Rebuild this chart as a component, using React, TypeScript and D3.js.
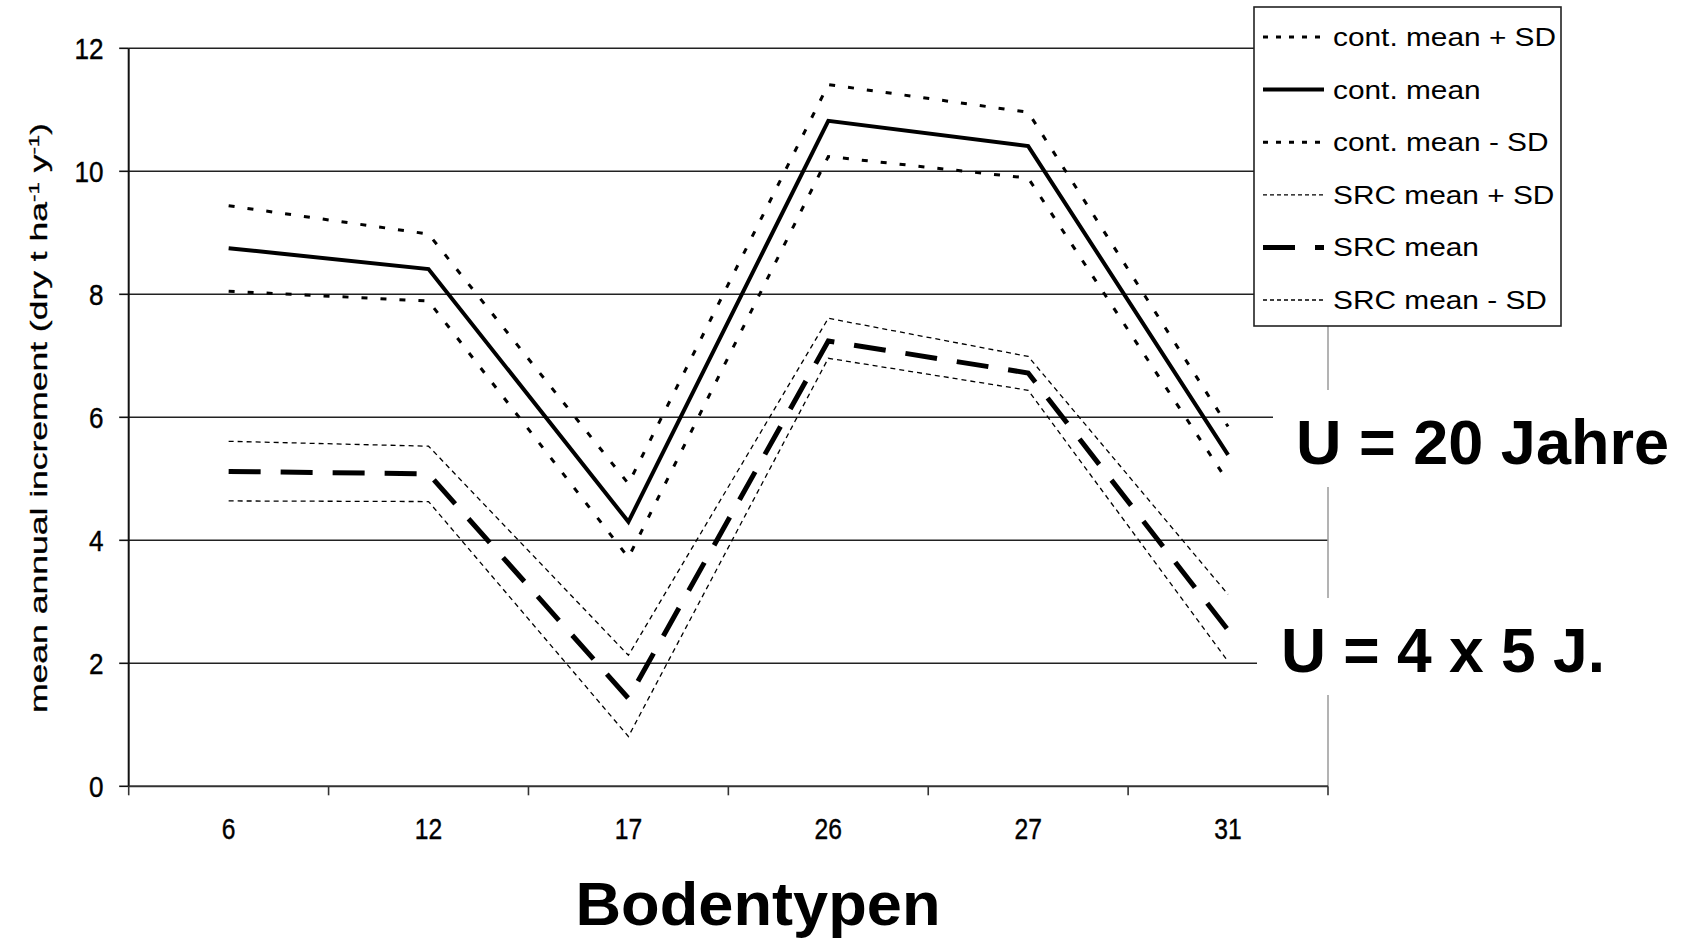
import React from 'react';
import * as d3 from 'd3';

const categories = ['6', '12', '17', '26', '27', '31'];
const contPlusSD = [9.44, 8.98, 4.92, 11.41, 10.96, 5.85];
const contMean = [8.75, 8.41, 4.3, 10.82, 10.41, 5.39];
const contMinusSD = [8.05, 7.89, 3.72, 10.24, 9.89, 4.95];
const srcPlusSD = [5.61, 5.53, 2.13, 7.61, 6.99, 3.12];
const srcMean = [5.12, 5.08, 1.43, 7.24, 6.72, 2.54];
const srcMinusSD = [4.64, 4.63, 0.81, 6.96, 6.44, 2.03];
const yTicks = [0, 2, 4, 6, 8, 10, 12];

const seriesNames = ['cont. mean + SD', 'cont. mean', 'cont. mean - SD', 'SRC mean + SD', 'SRC mean', 'SRC mean - SD'];

const FONT = "'Liberation Sans', Arial, sans-serif";

export default function App() {
  const W = 1682, H = 940;
  const x0 = 128.7, x1 = 1328, yTop = 48.3, yBot = 786.3;
  const x = d3.scaleBand<string>().domain(categories).range([x0, x1]);
  const y = d3.scaleLinear().domain([0, 12]).range([yBot, yTop]);
  const cx = (c: string) => (x(c) as number) + x.bandwidth() / 2;
  const line = (vals: number[]) =>
    d3.line<number>().x((_, i) => cx(categories[i])).y((v) => y(v))(vals) as string;

  const styles = [
    { vals: contPlusSD, w: 3, dash: '6 13', lw: 3, ldash: '5 8' },
    { vals: contMean, w: 4, dash: 'none', lw: 4, ldash: 'none' },
    { vals: contMinusSD, w: 3, dash: '6 13', lw: 3, ldash: '5 8' },
    { vals: srcPlusSD, w: 1.3, dash: '5 4', lw: 1.3, ldash: '4 3' },
    { vals: srcMean, w: 5, dash: '32 20', lw: 5, ldash: '32 20' },
    { vals: srcMinusSD, w: 1.3, dash: '5 4', lw: 1.3, ldash: '4 3' },
  ];

  const boundaries = categories.map((c) => x(c) as number).concat([x1]);
  const legY0 = 37, legStep = 52.6;

  return (
    <svg width={W} height={H} style={{ position: 'absolute', left: 0, top: 0, background: '#fff' }} fontFamily={FONT}>
      <rect x={0} y={0} width={W} height={H} fill="#fff" />
      {/* gridlines */}
      {yTicks.filter((t) => t > 0).map((t) => (
        <line key={t} x1={x0} x2={x1} y1={y(t)} y2={y(t)} stroke="#222" strokeWidth={1.6} />
      ))}
      {/* right border */}
      <line x1={x1} x2={x1} y1={yTop} y2={yBot} stroke="#a0a0a0" strokeWidth={1.6} />
      {/* axes */}
      <line x1={x0} x2={x0} y1={yTop} y2={yBot} stroke="#111" strokeWidth={2} />
      <line x1={x0} x2={x1} y1={yBot} y2={yBot} stroke="#333" strokeWidth={2} />
      {yTicks.map((t) => (
        <g key={t}>
          <line x1={x0 - 9.5} x2={x0} y1={y(t)} y2={y(t)} stroke="#111" strokeWidth={1.6} />
          <text transform={`translate(103.5,${y(t) + 10.3}) scale(0.9,1)`} textAnchor="end" fontSize={29} fill="#000"
            stroke="#000" strokeWidth={0.4}>
            {t}
          </text>
        </g>
      ))}
      {boundaries.map((b, i) => (
        <line key={i} x1={b} x2={b} y1={yBot} y2={yBot + 9} stroke="#333" strokeWidth={1.6} />
      ))}
      {categories.map((c) => (
        <text key={c} transform={`translate(${cx(c)},839.3) scale(0.85,1)`} textAnchor="middle" fontSize={29} fill="#000"
          stroke="#000" strokeWidth={0.4}>
          {c}
        </text>
      ))}
      {/* series */}
      {styles.map((s, i) => (
        <path key={i} d={line(s.vals)} fill="none" stroke="#000" strokeWidth={s.w}
          strokeDasharray={s.dash} strokeLinejoin="miter" />
      ))}
      {/* white label boxes */}
      <rect x={1273} y={390} width={409} height={97} fill="#fff" />
      <rect x={1257} y={598} width={425} height={97} fill="#fff" />
      <text x={1296} y={463.5} fontSize={63} fontWeight="bold" fill="#000" textLength={373} lengthAdjust="spacingAndGlyphs">U = 20 Jahre</text>
      <text x={1281} y={672} fontSize={63} fontWeight="bold" fill="#000" textLength={324} lengthAdjust="spacingAndGlyphs">U = 4 x 5 J.</text>
      {/* y title */}
      <text transform="translate(47,418) rotate(-90)" textAnchor="middle" fontSize={24} fill="#000"
        stroke="#000" strokeWidth={0.3} textLength={590} lengthAdjust="spacingAndGlyphs">
        mean annual increment (dry t ha<tspan dy={-8} fontSize={15}>-1</tspan><tspan dy={8}> y</tspan><tspan dy={-8} fontSize={15}>-1</tspan><tspan dy={8}>)</tspan>
      </text>
      {/* x title */}
      <text x={758} y={925} textAnchor="middle" fontSize={62} fontWeight="bold" fill="#000" textLength={365} lengthAdjust="spacingAndGlyphs">Bodentypen</text>
      {/* legend */}
      <rect x={1254} y={7} width={307} height={319} fill="#fff" stroke="#222" strokeWidth={1.6} />
      {seriesNames.map((n, i) => {
        const ly = legY0 + i * legStep;
        const s = styles[i];
        return (
          <g key={n}>
            <line x1={1263} x2={1324} y1={ly} y2={ly} stroke="#000" strokeWidth={s.lw} strokeDasharray={s.ldash} />
            <text transform={`translate(1333,${ly + 9}) scale(1.17,1)`} fontSize={25.5} fill="#000">{n}</text>
          </g>
        );
      })}
    </svg>
  );
}
